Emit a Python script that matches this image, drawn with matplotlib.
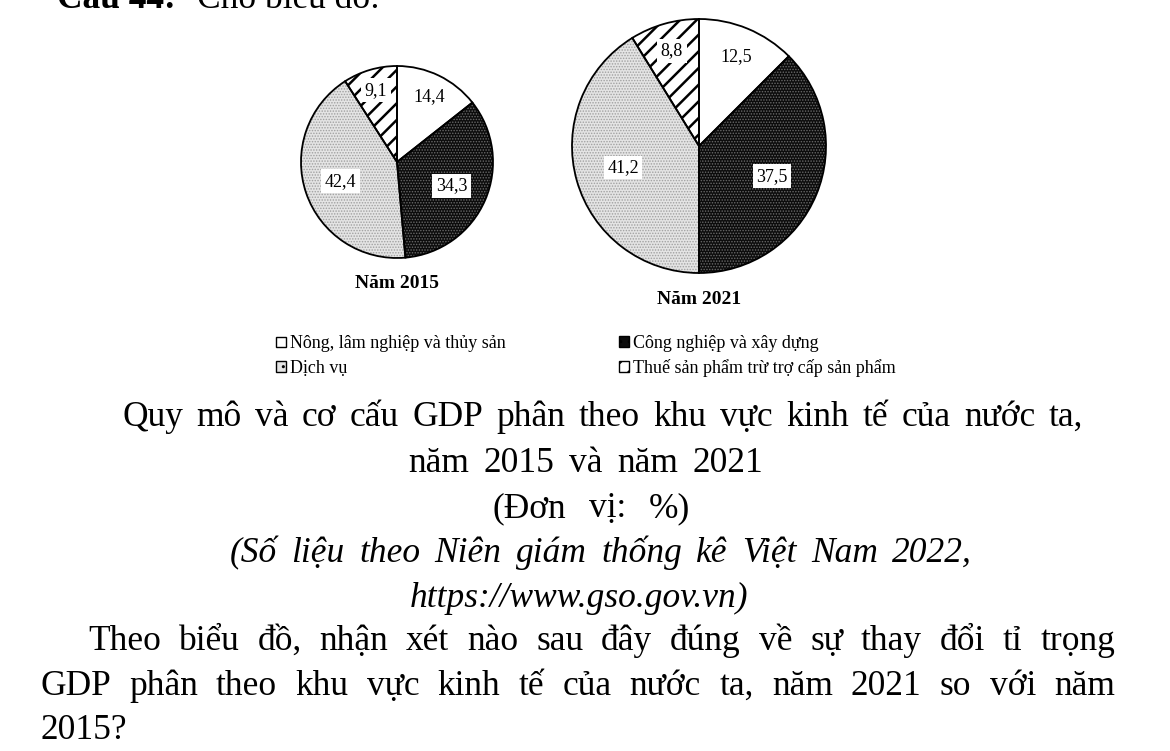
import matplotlib.pyplot as plt
from matplotlib.patches import Rectangle
import numpy as np

plt.rcParams['font.family'] = ['Liberation Serif', 'DejaVu Serif']

W, H = 1170, 751

sectors = ["Nông, lâm nghiệp và thủy sản",
           "Công nghiệp và xây dựng",
           "Dịch vụ",
           "Thuế sản phẩm trừ trợ cấp sản phẩm"]
vals_2015 = [14.4, 34.3, 42.4, 9.1]
vals_2021 = [12.5, 37.5, 41.2, 8.8]
labels_2015 = ["14,4", "34,3", "42,4", "9,1"]
labels_2021 = ["12,5", "37,5", "41,2", "8,8"]

faces = ["white", "#0c0c0c", "#e4e4e4", "white"]
hatches = [None, "......", "......", "//"]
hatch_cols = ["white", "#6a6a6a", "#a0a0a0", "black"]
hatch_lw = [0.5, 0.7, 0.7, 1.8]
label_r = [0.76, 0.62, 0.62, 0.78]

FS = 25.5


def px(x, y):
    return x / W, 1 - y / H


def draw_pie(cx, cy, r, vals, labels, title, ty):
    ax = fig.add_axes([(cx - r) / W, 1 - (cy + r) / H, 2 * r / W, 2 * r / H])
    kw = dict(startangle=90, counterclock=False)
    wedges, _ = ax.pie(vals, colors=faces, wedgeprops=dict(linewidth=0), **kw)
    allw = list(wedges)
    # hatch layers, one per sector so each gets its own hatch width
    for i in range(len(vals)):
        if not hatches[i]:
            continue
        with plt.rc_context({'hatch.linewidth': hatch_lw[i]}):
            over, _ = ax.pie(vals, colors=["none"] * len(vals),
                             wedgeprops=dict(linewidth=0), **kw)
        for j, w in enumerate(over):
            if j == i:
                w.set_hatch(hatches[i])
                w.set_edgecolor(hatch_cols[i])
            else:
                w.set_visible(False)
        allw += list(over)
    outl, _ = ax.pie(vals, colors=["none"] * len(vals),
                     wedgeprops=dict(linewidth=1.3, edgecolor="black"), **kw)
    for w in allw + list(outl):
        w.set_clip_on(False)
    for w, lab, d in zip(wedges, labels, label_r):
        a = np.deg2rad((w.theta1 + w.theta2) / 2)
        ax.text(d * np.cos(a), d * np.sin(a), lab, ha="center", va="center",
                fontsize=13,
                bbox=dict(facecolor="white", edgecolor="none", pad=2.5))
    ax.set_xlim(-1, 1)
    ax.set_ylim(-1, 1)
    fig.text(*px(cx, ty), title, ha="center", va="center",
             fontsize=14, fontweight="bold")


def spread(s, x0, x1, y, **kw):
    # place the words of a line so it runs from x0 to x1 (pixels)
    words = s.split()
    r = fig.canvas.get_renderer()
    ts = [fig.text(0, 0, w, fontsize=FS, va="baseline", **kw) for w in words]
    widths = [t.get_window_extent(r).width for t in ts]
    if len(words) == 1:
        ts[0].set_position(px(max(x0, (x0 + x1 - widths[0]) / 2), y))
        return
    gap = max((x1 - x0 - sum(widths)) / (len(words) - 1), 0.25 * FS)
    x = x0
    for t, w in zip(ts, widths):
        t.set_position(px(x, y))
        x += w + gap


fig = plt.figure(figsize=(W / 100, H / 100), dpi=100)

draw_pie(397, 162, 96, vals_2015, labels_2015, "Năm 2015", 283)
draw_pie(699, 146, 127, vals_2021, labels_2021, "Năm 2021", 300)

handles = []
for i in range(4):
    with plt.rc_context({'hatch.linewidth': 1.0}):
        p = Rectangle((0, 0), 1, 1, facecolor=faces[i], edgecolor="black",
                      linewidth=1, hatch=hatches[i][:2] if hatches[i] else None)
    handles.append(p)

leg_kw = dict(loc="center left", frameon=False, fontsize=13,
              handlelength=0.55, handleheight=0.55, handletextpad=0.25,
              labelspacing=0.4, borderpad=0, borderaxespad=0)
fig.legend([handles[0], handles[2]], [sectors[0], sectors[2]],
           bbox_to_anchor=px(276, 356), **leg_kw)
fig.legend([handles[1], handles[3]], [sectors[1], sectors[3]],
           bbox_to_anchor=px(619, 356), **leg_kw)

fig.text(*px(57, 8), "Câu 44:", fontsize=FS, fontweight="bold", va="baseline")
fig.text(*px(197, 8), "Cho biểu đồ:", fontsize=FS, va="baseline")

title_lines = ["Quy mô và cơ cấu GDP phân theo khu vực kinh tế của nước ta,",
               "năm 2015 và năm 2021",
               "(Đơn vị: %)"]
title_x = [(122, 1083), (408, 763), (493, 690)]
title_y = [426, 472, 517]
for s, (a, b), y in zip(title_lines, title_x, title_y):
    spread(s, a, b, y)

src_lines = ["(Số liệu theo Niên giám thống kê Việt Nam 2022,",
             "https://www.gso.gov.vn)"]
src_x = [(230, 972), (390, 767)]
src_y = [562, 607]
for s, (a, b), y in zip(src_lines, src_x, src_y):
    spread(s, a, b, y, style="italic")

q_lines = ["Theo biểu đồ, nhận xét nào sau đây đúng về sự thay đổi tỉ trọng",
           "GDP phân theo khu vực kinh tế của nước ta, năm 2021 so với năm",
           "2015?"]
q_x = [(88, 1115), (40, 1115), (40, 40)]
q_y = [650, 695, 739]
for s, (a, b), y in zip(q_lines, q_x, q_y):
    spread(s, a, b, y)

fig.savefig("out.png", dpi=100)
